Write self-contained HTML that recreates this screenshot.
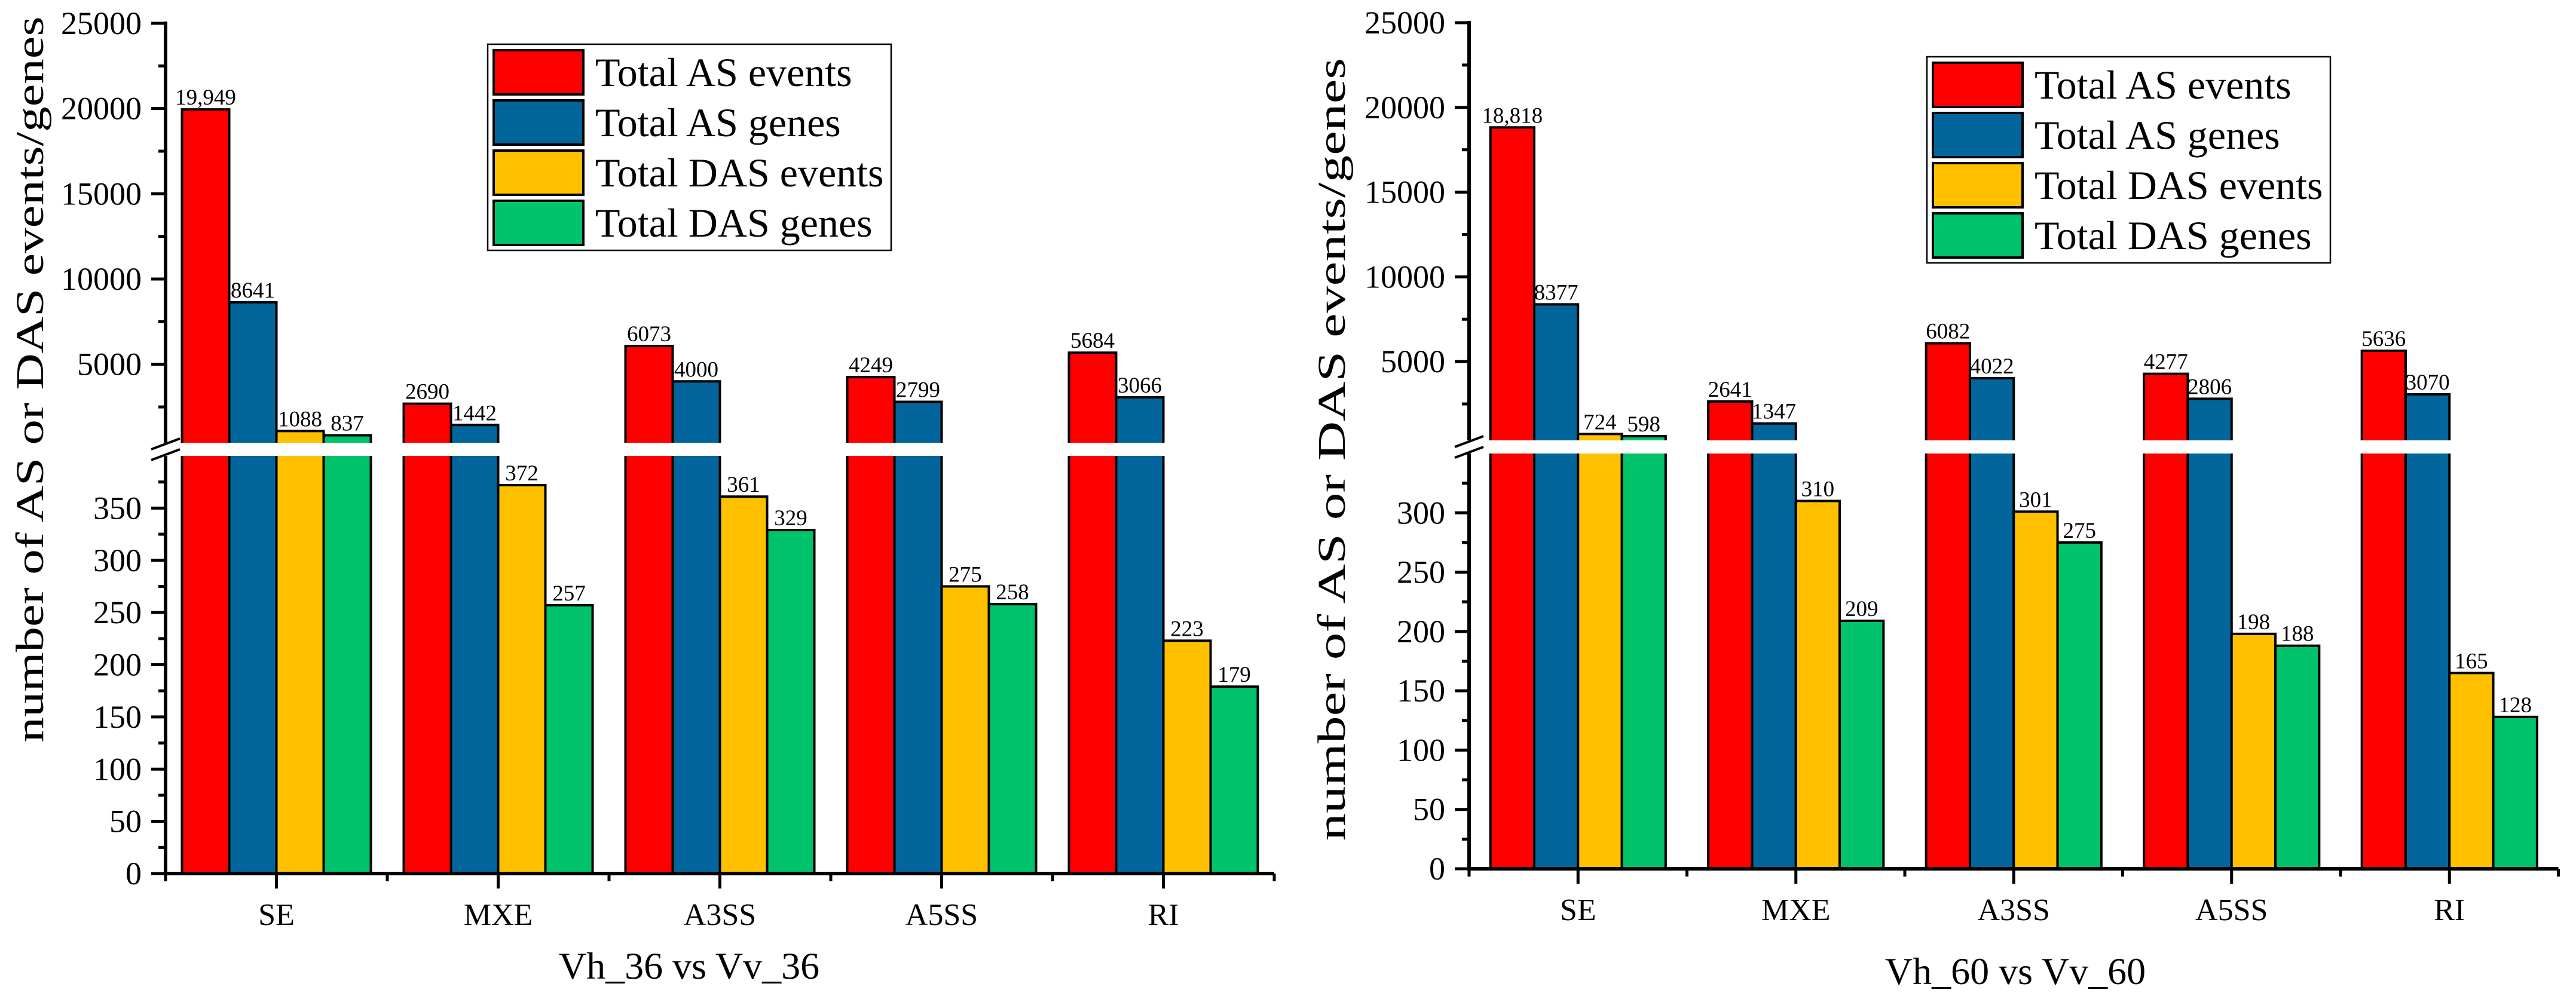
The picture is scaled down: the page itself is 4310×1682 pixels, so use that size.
<!DOCTYPE html>
<html><head><meta charset="utf-8">
<style>
html,body{margin:0;padding:0;background:#fff;}
svg{display:block;font-family:"Liberation Serif","Times New Roman",serif;}
</style></head>
<body>
<svg id="chart" width="4310" height="1682" viewBox="0 0 4310 1682" xmlns="http://www.w3.org/2000/svg"></svg>
<script>
const categories = ["SE","MXE","A3SS","A5SS","RI"];
const seriesNames = ["Total AS events","Total AS genes","Total DAS events","Total DAS genes"];
const seriesColors = ["#FF0000","#02659B","#FFC000","#00C36B"];
// Panel 1: Vh_36 vs Vv_36
const p1Events = [19949,2690,6073,4249,5684];
const p1Genes = [8641,1442,4000,2799,3066];
const p1DasEvents = [1088,372,361,275,223];
const p1DasGenes = [837,257,329,258,179];
const p1Labels = [["19,949","2690","6073","4249","5684"],["8641","1442","4000","2799","3066"],["1088","372","361","275","223"],["837","257","329","258","179"]];
// Panel 2: Vh_60 vs Vv_60
const p2Events = [18818,2641,6082,4277,5636];
const p2Genes = [8377,1347,4022,2806,3070];
const p2DasEvents = [724,310,301,198,165];
const p2DasGenes = [598,209,275,188,128];
const p2Labels = [["18,818","2641","6082","4277","5636"],["8377","1347","4022","2806","3070"],["724","310","301","198","165"],["598","209","275","188","128"]];
const upperTicks = [5000,10000,15000,20000,25000];
const p1LowerTicks = [0,50,100,150,200,250,300,350];
const p2LowerTicks = [0,50,100,150,200,250,300];

const NS = "http://www.w3.org/2000/svg";
const svg = document.getElementById("chart");
function mk(tag, attrs, parent){
  const e = document.createElementNS(NS, tag);
  for (const k in attrs) e.setAttribute(k, attrs[k]);
  (parent||svg).appendChild(e);
  return e;
}

function panel(cfg){
  const g = mk("g", {});
  
  
  const yLow = v => cfg.y0 - (v/cfg.lowMax)*(cfg.y0 - cfg.lowTop);
  const yUp = v => cfg.upBottom - (v - cfg.lowMax)/(25000 - cfg.lowMax)*(cfg.upBottom - cfg.upTop);
  const xCat = i => cfg.x0 + cfg.step*(i+0.5);
  const series = [cfg.s0, cfg.s1, cfg.s2, cfg.s3];
  for (let s=0; s<4; s++){
    for (let i=0; i<categories.length; i++){
      const v = series[s][i];
      const x = xCat(i) - 2*cfg.bw + s*cfg.bw;
      let topY;
      if (v <= cfg.lowMax){
        topY = yLow(v);
        const r = mk("rect", {x:x, y:topY, width:cfg.bw, height:cfg.y0-topY, fill:seriesColors[s], stroke:"#000", "stroke-width":4}, g);
        
        
      } else {
        const r1 = mk("rect", {x:x, y:cfg.lowTop, width:cfg.bw, height:cfg.y0-cfg.lowTop, fill:seriesColors[s]}, g);
        
        
        mk("path", {d:`M${x},${cfg.lowTop}V${cfg.y0}M${x+cfg.bw},${cfg.lowTop}V${cfg.y0}`, stroke:"#000","stroke-width":4,fill:"none"}, g);
        topY = yUp(v);
        const r2 = mk("rect", {x:x, y:topY, width:cfg.bw, height:cfg.upBottom-topY, fill:seriesColors[s]}, g);
        
        
        mk("path", {d:`M${x},${cfg.upBottom}V${topY}H${x+cfg.bw}V${cfg.upBottom}`, stroke:"#000","stroke-width":4,fill:"none"}, g);
      }
      const t = mk("text", {x:x+cfg.bw/2, y:topY-8, "text-anchor":"middle", "font-size":37}, g);
      t.textContent = cfg.labels[s][i];
      
      
    }
  }
  const xEnd = cfg.x0 + cfg.step*categories.length;
  mk("line", {x1:cfg.x0-3, y1:cfg.y0, x2:xEnd, y2:cfg.y0, stroke:"#000","stroke-width":6}, g);
  mk("line", {x1:cfg.x0, y1:cfg.y0+3, x2:cfg.x0, y2:cfg.lowTop, stroke:"#000","stroke-width":6}, g);
  mk("line", {x1:cfg.x0, y1:cfg.upBottom, x2:cfg.x0, y2:cfg.upTop-3, stroke:"#000","stroke-width":6}, g);
  [cfg.upBottom+2, cfg.lowTop-2].forEach(yb=>{
    mk("line", {x1:cfg.x0-24, y1:yb+9, x2:cfg.x0+24, y2:yb-9, stroke:"#000","stroke-width":4}, g);
  });
  for (let v=0; v<cfg.lowMax; v+=25){
    const y = yLow(v);
    const major = v%50===0;
    mk("line", {x1:cfg.x0-(major?24:12), y1:y, x2:cfg.x0, y2:y, stroke:"#000","stroke-width":5}, g);
  }
  cfg.lowTicks.forEach(v=>{
    const t = mk("text", {x:cfg.x0-40, y:yLow(v)+18, "text-anchor":"end", "font-size":54}, g);
    t.textContent = v;
    
    
  });
  for (let v=2500; v<=25000; v+=2500){
    const y = yUp(v);
    const major = v%5000===0;
    mk("line", {x1:cfg.x0-(major?24:12), y1:y, x2:cfg.x0, y2:y, stroke:"#000","stroke-width":5}, g);
  }
  upperTicks.forEach(v=>{
    const t = mk("text", {x:cfg.x0-40, y:yUp(v)+18, "text-anchor":"end", "font-size":54}, g);
    t.textContent = v;
    
    
  });
  for (let i=0;i<=categories.length;i++){
    const x = cfg.x0 + cfg.step*i;
    mk("line", {x1:x, y1:cfg.y0, x2:x, y2:cfg.y0+13, stroke:"#000","stroke-width":5}, g);
  }
  categories.forEach((c,i)=>{
    mk("line", {x1:xCat(i), y1:cfg.y0, x2:xCat(i), y2:cfg.y0+25, stroke:"#000","stroke-width":5}, g);
    const t = mk("text", {x:xCat(i), y:cfg.y0+86, "text-anchor":"middle", "font-size":52}, g);
    t.textContent = c;
    
    
  });
  const xt = mk("text", {x:cfg.xTitleX, y:cfg.xTitleY, "text-anchor":"middle", "font-size":64}, g);
  xt.textContent = cfg.xTitle;
  
  
  const yt = mk("text", {x:0, y:0, "text-anchor":"middle", "font-size":66, textLength:cfg.yTitleLen, lengthAdjust:"spacingAndGlyphs", transform:`translate(${cfg.yTitleX},${cfg.yTitleY}) rotate(-90)`}, g);
  yt.textContent = "number of AS or DAS events/genes";
  
  
  const lg = mk("g", {}, g);
  
  
  mk("rect", {x:cfg.lx, y:cfg.ly, width:675, height:345, fill:"#fff", stroke:"#000","stroke-width":2.5}, lg);
  seriesNames.forEach((n,s)=>{
    const yy = cfg.ly + 10 + s*84;
    const sw = mk("rect", {x:cfg.lx+10, y:yy, width:150, height:74, fill:seriesColors[s], stroke:"#000","stroke-width":4}, lg);
    
    
    const t = mk("text", {x:cfg.lx+180, y:yy+60, "font-size":68}, lg);
    t.textContent = n;
    
    
  });
}

panel({name:"panel-vh36-vs-vv36", tag:"p1", x0:277, step:371, bw:79, y0:1462, lowMax:400, lowTop:763, upBottom:741, upTop:39,
  s0:p1Events, s1:p1Genes, s2:p1DasEvents, s3:p1DasGenes, labels:p1Labels, lowTicks:p1LowerTicks,
  xTitle:"Vh_36 vs Vv_36", xTitleX:1153, xTitleY:1638, yTitleX:72, yTitleY:635, yTitleLen:1215, lx:816, ly:74});
panel({name:"panel-vh60-vs-vv60", tag:"p2", x0:2458, step:364.5, bw:73.3, y0:1454, lowMax:350, lowTop:759, upBottom:737, upTop:38,
  s0:p2Events, s1:p2Genes, s2:p2DasEvents, s3:p2DasGenes, labels:p2Labels, lowTicks:p2LowerTicks,
  xTitle:"Vh_60 vs Vv_60", xTitleX:3372, xTitleY:1647, yTitleX:2250, yTitleY:752, yTitleLen:1310, lx:3224, ly:95});
</script>
</body></html>
